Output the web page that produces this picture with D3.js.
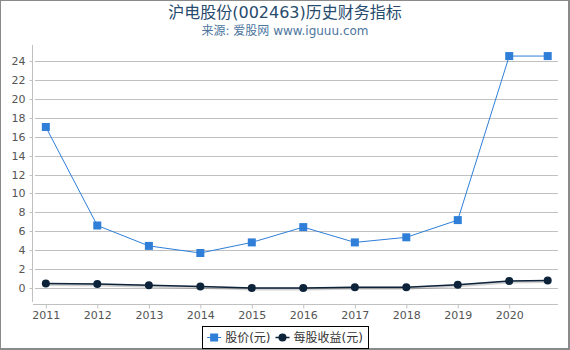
<!doctype html>
<html lang="zh">
  <head>
    <meta charset="UTF-8" />
    <title>沪电股份(002463)历史财务指标</title>
    <script src="https://d3js.org/d3.v7.min.js"></script>
    <style>
      html,body{margin:0;padding:0;background:#fff;}
      svg{display:block;font-family:"DejaVu Sans","Noto Sans CJK SC",sans-serif;}
      svg text{font-family:"DejaVu Sans","Noto Sans CJK SC",sans-serif;}
      .axis text{fill:#555;font-size:11px;}
    </style>
  </head>
  <body>
    <div id="chart"></div>
    <script>
      /* ── data ── */
      const tickYears = ['2011','2012','2013','2014','2015','2016','2017','2018','2019','2020'];
      const reportDates = ['2011-01-01','2012-01-01','2013-01-01','2014-01-01','2015-01-01',
                           '2016-01-01','2017-01-01','2018-01-01','2019-01-01','2020-01-01','2020-09-30'];
      const price = [17.03, 6.61, 4.45, 3.70, 4.82, 6.44, 4.82, 5.36, 7.18, 24.53, 24.53];   // 股价(元)
      const eps   = [0.48, 0.42, 0.28, 0.15, 0.01, 0.01, 0.07, 0.08, 0.35, 0.74, 0.79];     // 每股收益(元)
      const yTicks = [0,2,4,6,8,10,12,14,16,18,20,22,24];
      const seriesNames = ['股价(元)','每股收益(元)'];

      const W = 570, H = 350;
      const parse = d3.utcParse('%Y-%m-%d');

      const svg = d3.select('#chart').append('svg').attr('width',W).attr('height',H);

      /* outer frame */
      svg.append('rect').attr('x',0.5).attr('y',0.5).attr('width',W-2).attr('height',H-2)
         .attr('fill','#fff').attr('stroke','#8a8a8a').attr('stroke-width',1);
      svg.append('line').attr('x1',W-1).attr('x2',W-1).attr('y1',0).attr('y2',H)
         .attr('stroke','#8a8a8a').attr('stroke-width',2);
      svg.append('line').attr('x1',0).attr('x2',W).attr('y1',H-1).attr('y2',H-1)
         .attr('stroke','#8a8a8a').attr('stroke-width',2);

      /* titles */
      svg.append('text').attr('x',285).attr('y',18).attr('text-anchor','middle')
         .style('font-size','16px').style('fill','#274b6d')
         .text('沪电股份(002463)历史财务指标');
      svg.append('text').attr('x',285).attr('y',35).attr('text-anchor','middle')
         .style('font-size','12px').style('fill','#4d759e')
         .text('来源: 爱股网 www.iguuu.com');

      /* scales */
      const x = d3.scaleUtc()
                  .domain([parse('2010-10-02'), parse('2020-12-12')])
                  .range([33,558]);
      const y = d3.scaleLinear().domain([-1.8,25.7]).range([305,45]);

      /* gridlines */
      svg.append('g').selectAll('line').data(yTicks).join('line')
         .attr('x1',35).attr('x2',558)
         .attr('y1',d=>Math.round(y(d))+0.5).attr('y2',d=>Math.round(y(d))+0.5)
         .attr('stroke','#c0c0c0').attr('stroke-width',1);

      /* y axis */
      const gy = svg.append('g').attr('class','axis').attr('transform','translate(32.5,0)')
                    .call(d3.axisLeft(y).tickValues(yTicks).tickSize(3).tickPadding(4));
      gy.attr('font-family',null).attr('font-size',null);
      gy.select('.domain').remove();
      gy.selectAll('.tick line').attr('stroke','#c0c0c0');
      gy.append('line').attr('x1',0).attr('x2',0).attr('y1',45).attr('y2',302)
        .attr('stroke','#c0c0c0');
      gy.selectAll('.tick').attr('transform',d=>`translate(0,${Math.round(y(d))+0.5})`);

      /* x axis */
      const gx = svg.append('g').attr('class','axis').attr('transform','translate(0,304.5)')
                    .call(d3.axisBottom(x)
                      .tickValues(tickYears.map(t=>parse(t+'-01-01')))
                      .tickFormat(d3.utcFormat('%Y'))
                      .tickSize(4).tickPadding(3));
      gx.attr('font-family',null).attr('font-size',null);
      gx.select('.domain').attr('stroke','#c0c0c0').attr('d','M33,0H558');
      gx.selectAll('.tick line').attr('stroke','#c0c0c0');

      /* series */
      const pts = (vals)=>vals.map((v,i)=>[x(parse(reportDates[i])), y(v)]);
      const line = d3.line();

      function drawSeries(vals,color,width,shape,shadow){
        const p = pts(vals);
        if(shadow){
          svg.append('path').attr('d',line(p)).attr('transform','translate(0.5,1)')
             .attr('fill','none').attr('stroke',shadow).attr('stroke-width',width+1.5);
        }
        svg.append('path').attr('d',line(p))
           .attr('fill','none').attr('stroke',color).attr('stroke-width',width);
        const g = svg.append('g');
        if(shape==='square'){
          g.selectAll('rect').data(p).join('rect')
           .attr('x',d=>d[0]-4).attr('y',d=>d[1]-4).attr('width',8).attr('height',8)
           .attr('fill',color);
        }else{
          g.selectAll('circle').data(p).join('circle')
           .attr('cx',d=>d[0]).attr('cy',d=>d[1]).attr('r',4).attr('fill',color);
        }
      }
      drawSeries(price,'#2f7ed8',1,'square',null);
      drawSeries(eps,'#0d233a',1.5,'circle','rgba(0,0,0,0.18)');

      /* legend */
      const lg = svg.append('g');
      const box = lg.append('rect').attr('y',326.5).attr('height',22)
                    .attr('fill','#fff').attr('stroke','#000').attr('stroke-width',1);
      const items = [
        {name:seriesNames[0],color:'#2f7ed8',shape:'square'},
        {name:seriesNames[1],color:'#0d233a',shape:'circle'}
      ];
      const pad = 5, symW = 14, symPad = 4, gap = 5, cy = 337.5;
      const groups = items.map(it=>{
        const g = lg.append('g');
        g.append('line').attr('x1',0).attr('x2',symW).attr('y1',cy).attr('y2',cy)
         .attr('stroke',it.color).attr('stroke-width',it.shape==='square'?1:1.5);
        if(it.shape==='square'){
          g.append('rect').attr('x',symW/2-4).attr('y',cy-4).attr('width',8).attr('height',8).attr('fill',it.color);
        }else{
          g.append('circle').attr('cx',symW/2).attr('cy',cy).attr('r',4).attr('fill',it.color);
        }
        const t = g.append('text').attr('x',symW+symPad).attr('y',cy+4.5)
                   .style('font-size','12px').style('fill','#333').text(it.name);
        return {g, w: symW+symPad+t.node().getComputedTextLength()};
      });
      const total = pad*2 + d3.sum(groups,d=>d.w) + gap*(groups.length-1);
      let cx = 285 - total/2;
      box.attr('x',Math.round(cx)+0.5).attr('width',Math.round(total));
      cx += pad;
      groups.forEach(d=>{ d.g.attr('transform',`translate(${cx},0)`); cx += d.w + gap; });
    </script>
  </body>
</html>
